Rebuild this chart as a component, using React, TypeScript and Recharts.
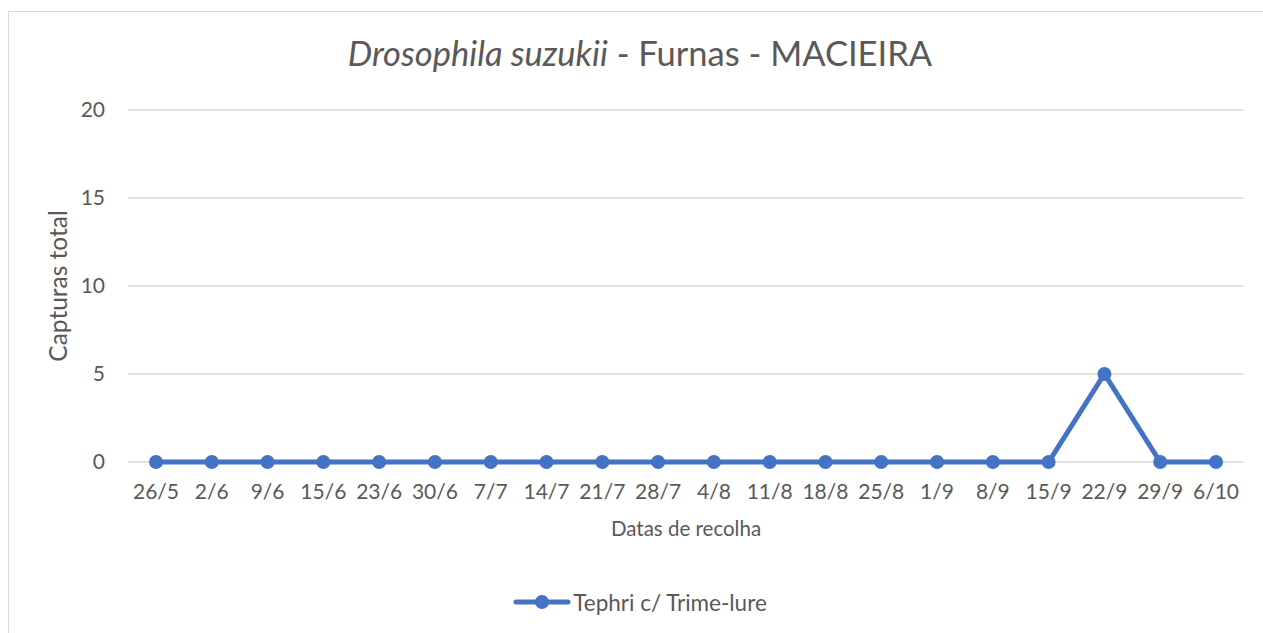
import { LineChart, Line, XAxis, YAxis, CartesianGrid, Legend, Label } from "recharts";

// collection dates and total captures per date
const dates = [
  "26/5", "2/6", "9/6", "15/6", "23/6", "30/6", "7/7", "14/7", "21/7", "28/7",
  "4/8", "11/8", "18/8", "25/8", "1/9", "8/9", "15/9", "22/9", "29/9", "6/10",
];
const captures = [0, 0, 0, 0, 0, 0, 0, 0, 0, 0, 0, 0, 0, 0, 0, 0, 0, 5, 0, 0];
const yTicks = [0, 5, 10, 15, 20];
const seriesName = "Tephri c/ Trime-lure";

const FONT = "Lato, 'Open Sans', sans-serif";
const TEXT = "#595959";
const GRID = "#d9d9d9";
const BLUE = "#4472C4";

const chartData = dates.map((d, i) => ({ date: d, value: captures[i] }));

function LegendContent() {
  return (
    <div
      style={{
        display: "flex",
        justifyContent: "center",
        alignItems: "center",
        height: 24,
        fontFamily: FONT,
        fontSize: 22.5,
        color: TEXT,
      }}
    >
      <svg width={58} height={16} style={{ marginRight: 2 }}>
        <line x1={3} y1={8} x2={55} y2={8} stroke={BLUE} strokeWidth={5} strokeLinecap="round" />
        <circle cx={29} cy={8} r={7} fill={BLUE} />
      </svg>
      <span>{seriesName}</span>
    </div>
  );
}

export default function App() {
  return (
    <div
      style={{
        position: "fixed",
        left: 8,
        top: 11,
        width: 1262,
        height: 640,
        borderLeft: `1px solid ${GRID}`,
        borderTop: `1px solid ${GRID}`,
        background: "#fff",
      }}
    >
      <div
        style={{
          position: "absolute",
          top: 24,
          left: 0,
          width: 1262,
          textAlign: "center",
          fontFamily: FONT,
          fontSize: 34.5,
          lineHeight: "34.5px",
          color: TEXT,
        }}
      >
        <i>Drosophila suzukii</i> - Furnas - MACIEIRA
      </div>
      <LineChart
        width={1262}
        height={621}
        data={chartData}
        margin={{ top: 98, right: 27, left: 59, bottom: 19 }}
      >
        <CartesianGrid vertical={false} stroke={GRID} strokeWidth={1.3} />
        <XAxis
          dataKey="date"
          height={128}
          interval={0}
          padding={{ left: 28, right: 28 }}
          axisLine={false}
          tickLine={false}
          tickSize={6}
          tickMargin={16}
          tick={{ fill: TEXT, fontSize: 21, fontFamily: FONT }}
        >
          <Label
            content={(props: any) => {
              const vb = props.viewBox;
              return (
                <text
                  x={vb.x + vb.width / 2}
                  y={vb.y + 66}
                  textAnchor="middle"
                  dominantBaseline="central"
                  fill={TEXT}
                  fontSize={20.5}
                  fontFamily={FONT}
                >
                  Datas de recolha
                </text>
              );
            }}
          />
        </XAxis>
        <YAxis
          width={60}
          domain={[0, 20]}
          ticks={yTicks}
          axisLine={false}
          tickLine={false}
          tickSize={6}
          tickMargin={17}
          tick={{ fill: TEXT, fontSize: 21, fontFamily: FONT }}
        >
          <Label
            content={(props: any) => {
              const vb = props.viewBox;
              const cy = vb.y + vb.height / 2;
              return (
                <text
                  x={48}
                  y={cy}
                  transform={`rotate(-90, 48, ${cy})`}
                  textAnchor="middle"
                  dominantBaseline="central"
                  fill={TEXT}
                  fontSize={24.5}
                  fontFamily={FONT}
                >
                  Capturas total
                </text>
              );
            }}
          />
        </YAxis>
        <Legend
          verticalAlign="bottom"
          align="center"
          wrapperStyle={{ left: 0, width: 1262 }}
          content={() => <LegendContent />}
        />
        <Line
          type="linear"
          dataKey="value"
          name={seriesName}
          stroke={BLUE}
          strokeWidth={5}
          dot={{ r: 7, fill: BLUE, stroke: BLUE, strokeWidth: 0 }}
          activeDot={false}
          isAnimationActive={false}
        />
      </LineChart>
    </div>
  );
}
